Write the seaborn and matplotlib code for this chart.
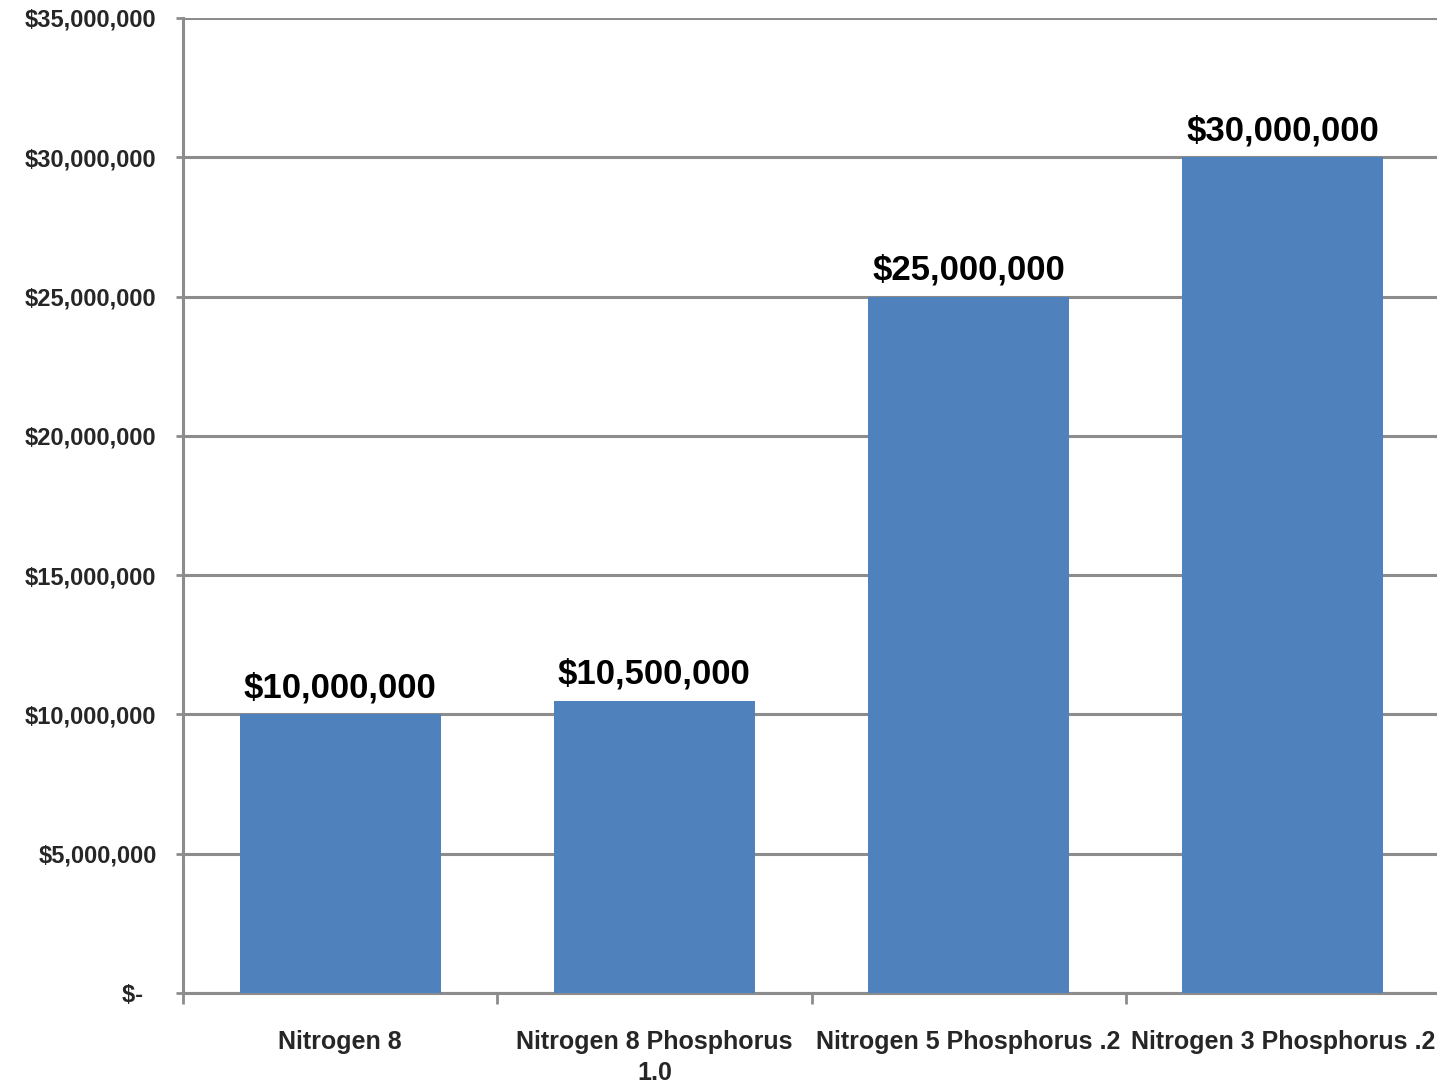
import matplotlib
matplotlib.use("Agg")
import matplotlib.pyplot as plt
import seaborn as sns
import pandas as pd
from matplotlib.ticker import FuncFormatter, FixedLocator

categories = ["Nitrogen 8", "Nitrogen 8 Phosphorus\n1.0", "Nitrogen 5 Phosphorus .2", "Nitrogen 3 Phosphorus .2"]
values = [10000000, 10500000, 25000000, 30000000]
value_labels = ["$10,000,000", "$10,500,000", "$25,000,000", "$30,000,000"]

sns.set_theme(style="white")
plt.rcParams['font.family'] = ['Liberation Sans', 'DejaVu Sans']

df = pd.DataFrame({"cat": categories, "val": values})

fig = plt.figure(figsize=(14.37, 10.91), dpi=100)
ax = fig.add_axes([183/1437, 1 - 993/1091, (1440 - 183)/1437, (993 - 18)/1091])

sns.barplot(data=df, x="cat", y="val", color="#4F81BD", saturation=1, width=0.64, ax=ax,
            zorder=3, linewidth=0, edgecolor="none")

gray = "#8C8C8C"
ax.set_ylim(0, 35000000)
ax.set_xlim(-0.5, 3.5)
ax.set_yticks(range(0, 35000001, 5000000))
ax.yaxis.set_major_formatter(FuncFormatter(lambda v, p: "$-  " if v == 0 else f"${v:,.0f}"))
ax.yaxis.grid(True, color=gray, linewidth=2.2, zorder=0)
ax.set_axisbelow(True)

for s in ["top", "right"]:
    ax.spines[s].set_visible(False)
for s in ["left", "bottom"]:
    ax.spines[s].set_color(gray)
    ax.spines[s].set_linewidth(2.2)

ax.tick_params(axis="y", which="major", left=True, length=5, width=2, color=gray, pad=14,
               labelsize=17)
for lab in ax.get_yticklabels():
    lab.set_fontweight("bold")

ax.xaxis.set_minor_locator(FixedLocator([-0.5, 0.5, 1.5, 2.5, 3.5]))
ax.tick_params(axis="x", which="minor", bottom=True, length=8, width=2, color=gray)
ax.tick_params(axis="x", which="major", bottom=False, length=0, pad=27, labelsize=18)
for lab in ax.get_xticklabels():
    lab.set_fontweight("bold")
    lab.set_linespacing(1.35)

ax.set_xlabel("")
ax.set_ylabel("")

for i, (v, t) in enumerate(zip(values, value_labels)):
    ax.annotate(t, (i, v), xytext=(0, 7), textcoords="offset points",
                ha="center", va="bottom", fontsize=25, fontweight="bold", color="black")

fig.savefig("out.png", dpi=100)
